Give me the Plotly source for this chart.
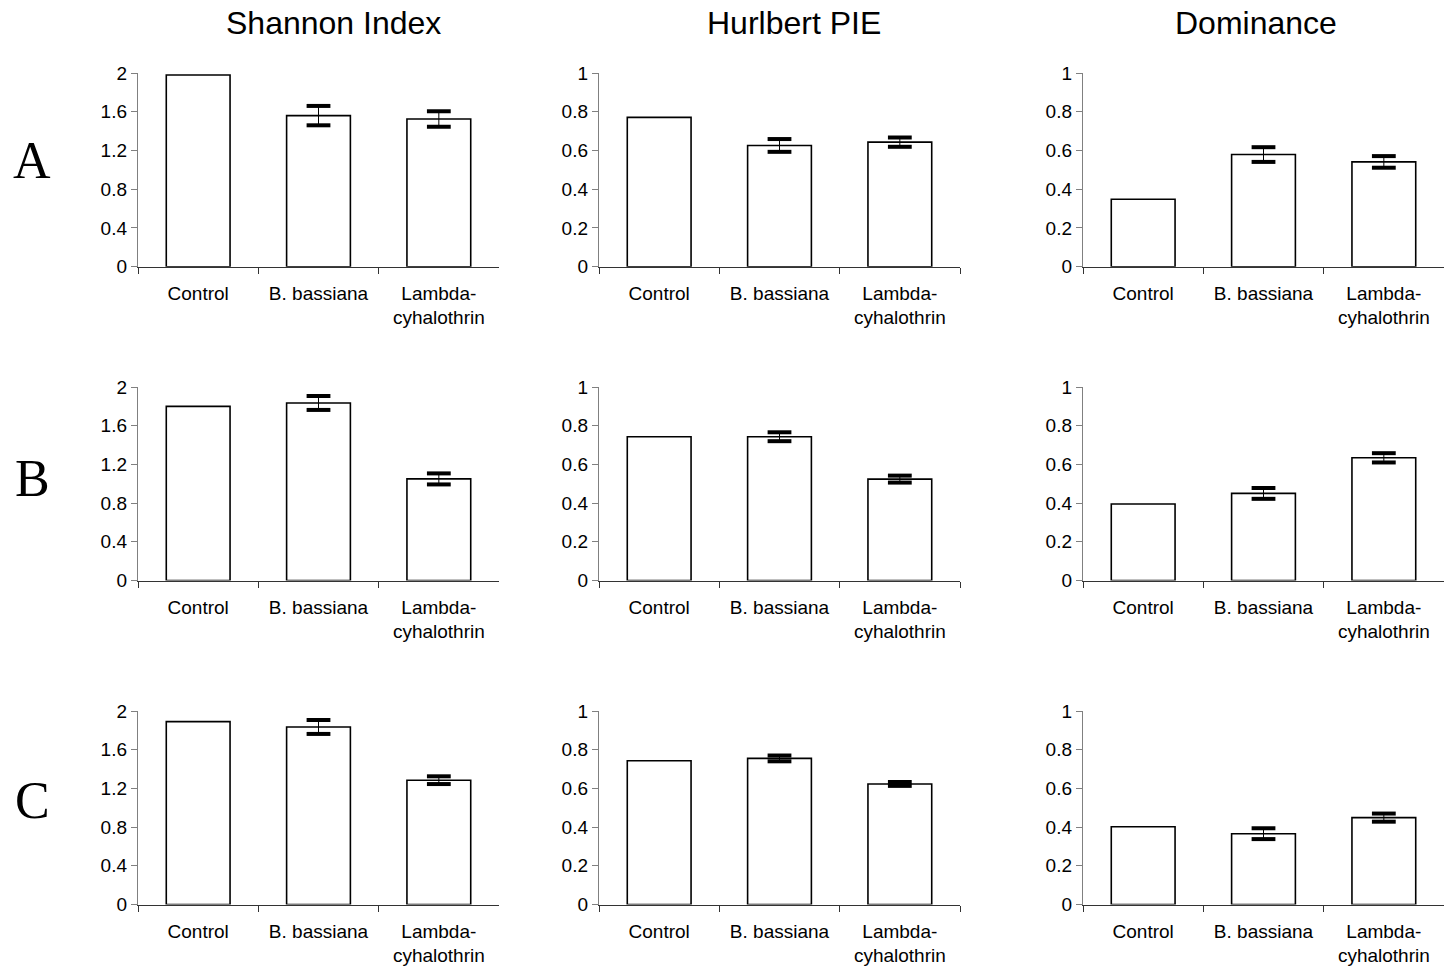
import plotly.graph_objects as go

categories = ["Control", "B. bassiana", "Lambda-cyhalothrin"]
tick_text = ["Control", "B. bassiana", "Lambda-<br>cyhalothrin"]
metrics = ["Shannon Index", "Hurlbert PIE", "Dominance"]
row_labels = ["A", "B", "C"]

# Shannon Index (rows A, B, C)
shannon_A = [1.98, 1.56, 1.525]
shannon_A_err = [0, 0.10, 0.08]
shannon_B = [1.80, 1.835, 1.05]
shannon_B_err = [0, 0.072, 0.057]
shannon_C = [1.89, 1.835, 1.285]
shannon_C_err = [0, 0.072, 0.04]

# Hurlbert PIE
pie_A = [0.771, 0.626, 0.643]
pie_A_err = [0, 0.033, 0.024]
pie_B = [0.743, 0.743, 0.524]
pie_B_err = [0, 0.023, 0.018]
pie_C = [0.743, 0.755, 0.623]
pie_C_err = [0, 0.015, 0.01]

# Dominance
dom_A = [0.348, 0.579, 0.541]
dom_A_err = [0, 0.038, 0.03]
dom_B = [0.395, 0.45, 0.634]
dom_B_err = [0, 0.028, 0.024]
dom_C = [0.402, 0.366, 0.449]
dom_C_err = [0, 0.028, 0.021]

y_max = [2, 1, 1]
y_dtick = [0.4, 0.2, 0.2]

values = [
    [(shannon_A, shannon_A_err), (pie_A, pie_A_err), (dom_A, dom_A_err)],
    [(shannon_B, shannon_B_err), (pie_B, pie_B_err), (dom_B, dom_B_err)],
    [(shannon_C, shannon_C_err), (pie_C, pie_C_err), (dom_C, dom_C_err)],
]

W, H = 1444, 971
col_px = [(138, 499), (599, 960), (1083, 1444)]
row_px = [(73, 266.7), (387, 580.5), (711, 904.5)]


def px_x(v):
    return v / W


def px_y(v):
    return 1 - v / H


fig = go.Figure()
layout = {}
idx = 0
for r in range(3):
    for c in range(3):
        idx += 1
        xa = "x" if idx == 1 else f"x{idx}"
        ya = "y" if idx == 1 else f"y{idx}"
        vals, errs = values[r][c]
        fig.add_trace(go.Bar(
            x=categories, y=vals, width=0.53,
            marker=dict(color="white", line=dict(color="black", width=1.6)),
            error_y=dict(type="data", array=[e if e > 0 else None for e in errs],
                         visible=True, color="black", thickness=1, width=0),
            xaxis=xa, yaxis=ya, showlegend=False, hoverinfo="skip",
        ))
        # thick caps of the error bars
        cap_x, cap_y = [], []
        for cat, v, e in zip(categories, vals, errs):
            if e > 0:
                cap_x += [cat, cat]
                cap_y += [v + e, v - e]
        fig.add_trace(go.Scatter(
            x=cap_x, y=cap_y, mode="markers",
            marker=dict(symbol="line-ew", size=17, color="black",
                        line=dict(color="black", width=4)),
            xaxis=xa, yaxis=ya, showlegend=False, hoverinfo="skip", cliponaxis=False,
        ))
        x0, x1 = col_px[c]
        y0, y1 = row_px[r]
        layout["xaxis" if idx == 1 else f"xaxis{idx}"] = dict(
            domain=[px_x(x0), min(px_x(x1), 1.0)], anchor=ya, automargin=False,
            type="category", range=[-0.5, 2.5],
            tickmode="array", tickvals=categories, ticktext=tick_text,
            tickson="boundaries", ticks="outside", ticklen=6, tickcolor="#333",
            ticklabelstandoff=9,
            showline=True, linecolor="#333", linewidth=1.2,
            showgrid=False, zeroline=False,
            tickfont=dict(family="Liberation Sans, Arial", size=19, color="black"),
            fixedrange=True,
        )
        layout["yaxis" if idx == 1 else f"yaxis{idx}"] = dict(
            domain=[px_y(y1), px_y(y0)], anchor=xa, automargin=False,
            range=[0, y_max[c]], dtick=y_dtick[c], tick0=0,
            ticks="outside", ticklen=6, tickcolor="#808080",
            showline=True, linecolor="#808080", linewidth=1.2,
            showgrid=False, zeroline=False,
            tickfont=dict(family="Liberation Sans, Arial", size=19, color="black"),
            fixedrange=True,
        )

annotations = []
title_x = [333.5, 794, 1256]
for c, t in enumerate(metrics):
    annotations.append(dict(
        text=t, x=px_x(title_x[c]), y=px_y(23), xref="paper", yref="paper",
        xanchor="center", yanchor="middle", showarrow=False,
        font=dict(family="Liberation Sans, Arial", size=32, color="black"),
    ))
row_y = [160, 478, 800]
for r, lab in enumerate(row_labels):
    annotations.append(dict(
        text=lab, x=px_x(32), y=px_y(row_y[r]), xref="paper", yref="paper",
        xanchor="center", yanchor="middle", showarrow=False,
        font=dict(family="Liberation Serif, Times New Roman", size=52, color="black"),
    ))

fig.update_layout(
    template="none",
    width=W, height=H, margin=dict(l=0, r=0, t=0, b=0, autoexpand=False),
    paper_bgcolor="white", plot_bgcolor="white",
    annotations=annotations, bargap=0.47, hovermode=False,
    **layout,
)
fig.write_html(
    "out.html",
    config={"displayModeBar": False, "staticPlot": True},
    post_script="document.body.style.margin='0';document.body.style.overflow='hidden';",
)
